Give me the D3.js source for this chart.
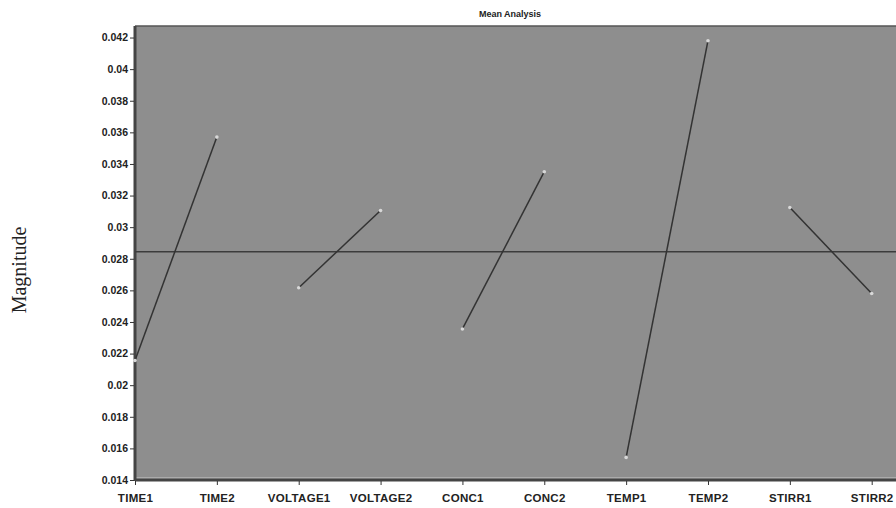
<!DOCTYPE html>
<html><head><meta charset="utf-8">
<script src="https://cdn.jsdelivr.net/npm/d3@7"></script>
<style>body{margin:0;background:#fff;}svg{display:block;}</style>
</head><body>
<svg id="c" width="896" height="508"></svg>
<script>
const categories = ["TIME1","TIME2","VOLTAGE1","VOLTAGE2","CONC1","CONC2","TEMP1","TEMP2","STIRR1","STIRR2"];
const meanValues = [0.02156,0.03570,0.02617,0.03105,0.02356,0.03351,0.01543,0.04180,0.03124,0.02580];
const grandMean = 0.02845;
const yTicks = [0.014,0.016,0.018,0.02,0.022,0.024,0.026,0.028,0.03,0.032,0.034,0.036,0.038,0.04,0.042];
const factorPairs = [[0,1],[2,3],[4,5],[6,7],[8,9]];

const svg = d3.select("#c");
const L = 135, R = 896, T = 26, B = 480;
const x = d3.scalePoint().domain(categories).range([135, 871.7]);
const y = d3.scaleLinear().domain([0.014, 0.04273]).range([B, T]);

svg.append("rect").attr("x", L).attr("y", T).attr("width", R - L).attr("height", B - T).attr("fill", "#8e8e8e");

// borders
svg.append("line").attr("x1", L).attr("x2", R).attr("y1", T).attr("y2", T).attr("stroke", "#555").attr("stroke-width", 1.5);
svg.append("line").attr("x1", L).attr("x2", R).attr("y1", B - 2).attr("y2", B - 2).attr("stroke", "#c8c8c8").attr("stroke-width", 1);
svg.append("line").attr("x1", L).attr("x2", R).attr("y1", B).attr("y2", B).attr("stroke", "#444").attr("stroke-width", 3);
svg.append("line").attr("x1", L).attr("x2", L).attr("y1", T).attr("y2", B + 1).attr("stroke", "#444").attr("stroke-width", 3);

// y axis
const yAxis = d3.axisLeft(y).tickValues(yTicks).tickSize(4).tickSizeOuter(0).tickFormat(d => String(+d.toFixed(3)));
const gy = svg.append("g").attr("transform", `translate(${L - 1},0)`).call(yAxis);
gy.select(".domain").remove();
gy.selectAll("line").attr("stroke", "#333");
gy.selectAll("text").attr("font-family", "Liberation Sans, Arial, sans-serif").attr("font-weight", "bold").attr("font-size", 10.5).attr("fill", "#222").attr("dx", "1");

// x axis
const xAxis = d3.axisBottom(x).tickSize(4).tickSizeOuter(0);
const gx = svg.append("g").attr("transform", `translate(0,${B + 1})`).call(xAxis);
gx.select(".domain").remove();
gx.selectAll("line").attr("stroke", "#333");
gx.selectAll("text").attr("font-family", "Liberation Sans, Arial, sans-serif").attr("font-weight", "bold").attr("font-size", 11.5).attr("fill", "#222").attr("dy", "1.2em").attr("letter-spacing", "0.3");

// grand mean line
svg.append("line").attr("x1", L).attr("x2", R).attr("y1", y(grandMean)).attr("y2", y(grandMean)).attr("stroke", "#3c3c3c").attr("stroke-width", 1.5);

// factor lines
factorPairs.forEach(p => {
  const pts = p.map(i => [x(categories[i]), y(meanValues[i])]);
  svg.append("path").attr("d", d3.line()(pts)).attr("stroke", "#333").attr("stroke-width", 1.5).attr("fill", "none");
  pts.forEach(q => svg.append("circle").attr("cx", q[0]).attr("cy", q[1]).attr("r", 1.8).attr("fill", "#d8d8d8"));
});

// title
svg.append("text").attr("x", 510).attr("y", 17).attr("text-anchor", "middle").attr("font-family", "Liberation Sans, Arial, sans-serif").attr("font-weight", "bold").attr("font-size", 9).attr("fill", "#222").text("Mean Analysis");

// y label
svg.append("text").attr("transform", "translate(26,270) rotate(-90)").attr("text-anchor", "middle").attr("font-family", "Liberation Serif, Times New Roman, serif").attr("font-size", 20).attr("fill", "#222").text("Magnitude");
</script>
</body></html>
